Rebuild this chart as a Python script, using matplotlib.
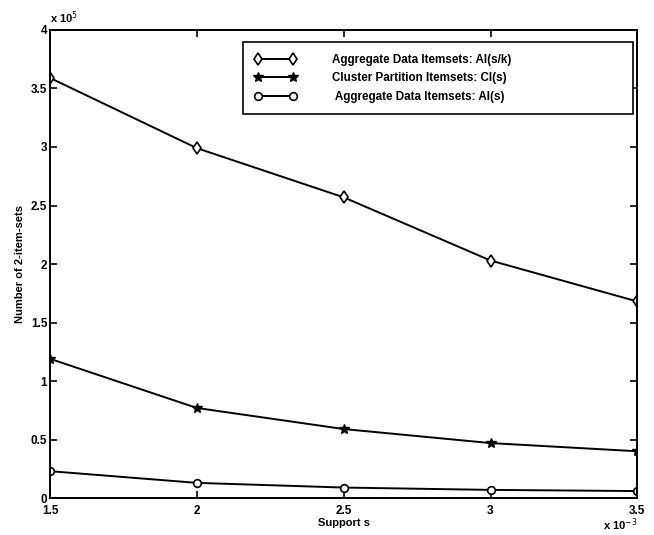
import matplotlib
matplotlib.use("Agg")
import matplotlib.pyplot as plt
import numpy as np

# support values (x 10^-3) and itemset counts (x 10^5)
support = [1.5, 2.0, 2.5, 3.0, 3.5]
ai_sk = [3.59, 2.99, 2.57, 2.03, 1.68]
ci_s = [1.19, 0.77, 0.59, 0.47, 0.40]
ai_s = [0.23, 0.13, 0.09, 0.07, 0.06]

labels = ["Aggregate Data Itemsets: AI(s/k)",
          "Cluster Partition Itemsets: CI(s)",
          " Aggregate Data Itemsets: AI(s)"]

plt.rcParams['font.family'] = ['Liberation Sans', 'DejaVu Sans']

fig = plt.figure(figsize=(6.54, 5.35), dpi=100)
ax = fig.add_axes([0.0765, 0.069, 0.898, 0.875])

ax.plot(support, ai_sk, color='black', lw=1.4, marker='d', ms=6,
        mfc='white', mec='black', mew=1.2, label=labels[0])
ax.plot(support, ci_s, color='black', lw=1.4, marker='*', ms=7,
        mfc='black', mec='black', label=labels[1])
ax.plot(support, ai_s, color='black', lw=1.4, marker='o', ms=5.5,
        mfc='white', mec='black', mew=1.2, label=labels[2])

ax.set_xlim(1.5, 3.5)
ax.set_ylim(0, 4)
ax.set_xticks(np.arange(1.5, 3.51, 0.5))
ax.set_xticklabels(["1.5", "2", "2.5", "3", "3.5"])
ax.set_yticks(np.arange(0, 4.01, 0.5))
ax.set_yticklabels(["0", "0.5", "1", "1.5", "2", "2.5", "3", "3.5", "4"])
ax.tick_params(direction='in', top=True, right=True, length=5, width=1.2,
               labelsize=8.5, pad=2)
ax.tick_params(axis='x', pad=5)
for lab in ax.get_xticklabels() + ax.get_yticklabels():
    lab.set_fontweight('bold')
for sp in ax.spines.values():
    sp.set_linewidth(1.4)

ax.set_xlabel("Support s", fontsize=8, fontweight='bold', labelpad=1)
ax.set_ylabel("Number of 2-item-sets", fontsize=8, fontweight='bold', labelpad=4)

ax.text(0.0, 1.008, r"x 10$^{5}$", transform=ax.transAxes, fontsize=8,
        fontweight='bold', ha='left', va='bottom')
ax.text(1.0, -0.04, r"x 10$^{-3}$", transform=ax.transAxes, fontsize=8,
        fontweight='bold', ha='right', va='top')

leg = ax.legend(loc='upper left', bbox_to_anchor=(0.329, 0.829, 0.664, 0.145),
                mode='expand', numpoints=2, handlelength=3.6, handletextpad=3.0,
                fontsize=8.4, frameon=True, fancybox=False, framealpha=1,
                edgecolor='black', borderpad=1.0, labelspacing=0.55,
                borderaxespad=0)
leg.get_frame().set_linewidth(1.2)
for t in leg.get_texts():
    t.set_fontweight('bold')

fig.savefig("out.png", dpi=100)
